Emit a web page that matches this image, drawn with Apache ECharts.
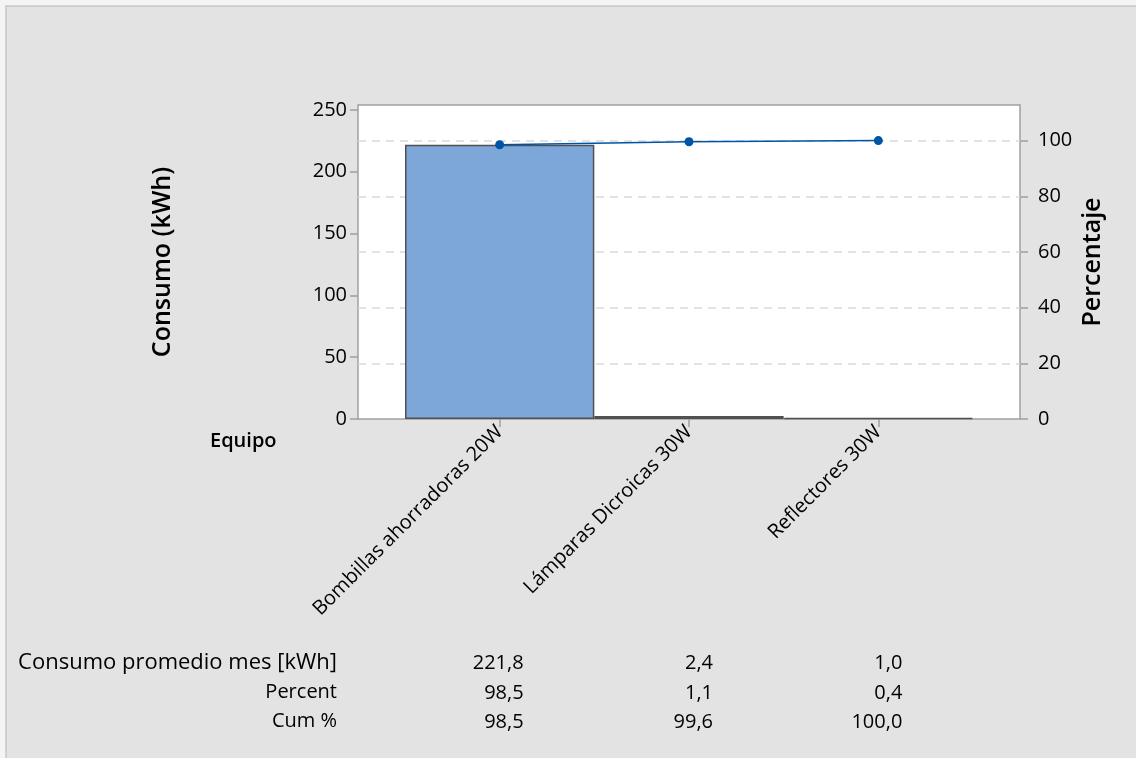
<!DOCTYPE html>
<html>
<head>
<meta charset="utf-8">
<script src="https://cdn.jsdelivr.net/npm/echarts@6/dist/echarts.min.js"></script>
<style>
html,body{margin:0;padding:0;background:#f4f4f4;}
#chart{width:1136px;height:758px;}
</style>
</head>
<body>
<div id="chart"></div>
<script>
// ---- data ----
const categories = ['Bombillas ahorradoras 20W', 'Lámparas Dicroicas 30W', 'Reflectores 30W'];
const consumo = [221.8, 2.4, 1.0];
const percent = [98.5, 1.1, 0.4];
const cumPct = [98.5, 99.6, 100.0];
const leftTicks = [0, 50, 100, 150, 200, 250];
const rightTicks = [0, 20, 40, 60, 80, 100];
const rowLabels = ['Consumo promedio mes [kWh]', 'Percent', 'Cum %'];
const leftTitle = 'Consumo (kWh)';
const rightTitle = 'Percentaje';
const xTitle = 'Equipo';

// ---- chart ----
const FONT = '"Open Sans", "Noto Sans", sans-serif';
const fmt = v => v.toFixed(1).replace('.', ',');
const total = consumo.reduce((a, b) => a + b, 0);
const leftMax = 254;
const rightMax = leftMax / total * 100;
const axisGray = '#a0a0a0';

const tableRows = [consumo, percent, cumPct];
const tableOffsets = [244, 274, 303];
const rowLabelY = [663, 692, 721];
const rowLabelSize = [22, 20, 20];

const xAxes = [
  {
    type: 'category', gridIndex: 0, data: categories, boundaryGap: true,
    axisLine: { show: false },
    axisTick: { show: true, alignWithLabel: true, length: 8, lineStyle: { color: axisGray, width: 1.5 } },
    axisLabel: { rotate: 45, fontSize: 20, fontFamily: FONT, color: '#000', margin: 10 }
  },
  { type: 'value', gridIndex: 1, min: 0, max: 1, show: false }
];
tableRows.forEach((row, i) => {
  xAxes.push({
    type: 'category', gridIndex: 2, position: 'bottom', offset: tableOffsets[i],
    data: row.map(fmt), boundaryGap: true,
    axisLine: { show: false }, axisTick: { show: false }, splitLine: { show: false },
    axisLabel: { align: 'right', verticalAlign: 'middle', margin: 0, fontSize: 20, fontFamily: FONT, color: '#000', interval: 0 }
  });
});

const graphics = [
  { type: 'rect', z: -10, shape: { x: 6, y: 6, width: 1200, height: 800 }, style: { fill: '#e3e3e3', stroke: '#c8c8c8', lineWidth: 1.5 } },
  { type: 'text', x: 210, y: 441, style: { text: xTitle, font: '600 20px ' + FONT, fill: '#000', textVerticalAlign: 'middle', textAlign: 'left' } }
];
rowLabels.forEach((t, i) => {
  graphics.push({ type: 'text', x: 337, y: rowLabelY[i], style: { text: t, font: rowLabelSize[i] + 'px ' + FONT, fill: '#000', textAlign: 'right', textVerticalAlign: 'middle' } });
});

const option = {
  animation: false,
  backgroundColor: 'transparent',
  textStyle: { fontFamily: FONT },
  grid: [
    { left: 405, right: 163, top: 105, bottom: 339, show: false },
    { left: 358, right: 116, top: 105, bottom: 339, show: true, backgroundColor: '#ffffff', borderColor: axisGray, borderWidth: 1.5 },
    { left: 429, right: 139, top: 105, bottom: 339, show: false }
  ],
  xAxis: xAxes,
  yAxis: [
    {
      type: 'value', gridIndex: 0, position: 'left', offset: 47, min: 0, max: leftMax,
      axisLine: { show: false },
      axisTick: { show: true, length: 8, customValues: leftTicks, lineStyle: { color: axisGray, width: 1.5 } },
      axisLabel: { customValues: leftTicks, fontSize: 20, fontFamily: FONT, color: '#000', margin: 11 },
      splitLine: { show: false },
      name: leftTitle, nameLocation: 'middle', nameGap: 183, nameRotate: 90,
      nameTextStyle: { fontSize: 25, fontWeight: 600, fontFamily: FONT, color: '#000' }
    },
    {
      type: 'value', gridIndex: 0, position: 'right', offset: 47, min: 0, max: rightMax,
      axisLine: { show: false },
      axisTick: { show: true, length: 8, customValues: rightTicks, lineStyle: { color: axisGray, width: 1.5 } },
      axisLabel: { customValues: rightTicks, fontSize: 20, fontFamily: FONT, color: '#000', margin: 18 },
      splitLine: { show: false },
      name: rightTitle, nameLocation: 'middle', nameGap: 60, nameRotate: 90,
      nameTextStyle: { fontSize: 25, fontWeight: 600, fontFamily: FONT, color: '#000' }
    },
    {
      type: 'value', gridIndex: 1, min: 0, max: rightMax, interval: 20,
      axisLine: { show: false }, axisTick: { show: false }, axisLabel: { show: false },
      splitLine: { show: true, showMinLine: false, showMaxLine: false, lineStyle: { color: '#d9d9d9', width: 1.5, type: [8, 6] } }
    },
    { type: 'value', gridIndex: 2, show: false }
  ],
  series: [
    {
      type: 'bar', xAxisIndex: 0, yAxisIndex: 0, data: consumo,
      barCategoryGap: '0%',
      itemStyle: { color: '#7da7d9', borderColor: '#505050', borderWidth: 1.5 },
      z: 2
    },
    {
      type: 'line', xAxisIndex: 0, yAxisIndex: 1, data: cumPct,
      symbol: 'circle', symbolSize: 9,
      itemStyle: { color: '#0054a6' },
      lineStyle: { color: '#0054a6', width: 1.5 },
      z: 3
    }
  ],
  graphic: graphics
};

const chart = echarts.init(document.getElementById('chart'), null, { renderer: 'canvas' });
chart.setOption(option);
</script>
</body>
</html>
